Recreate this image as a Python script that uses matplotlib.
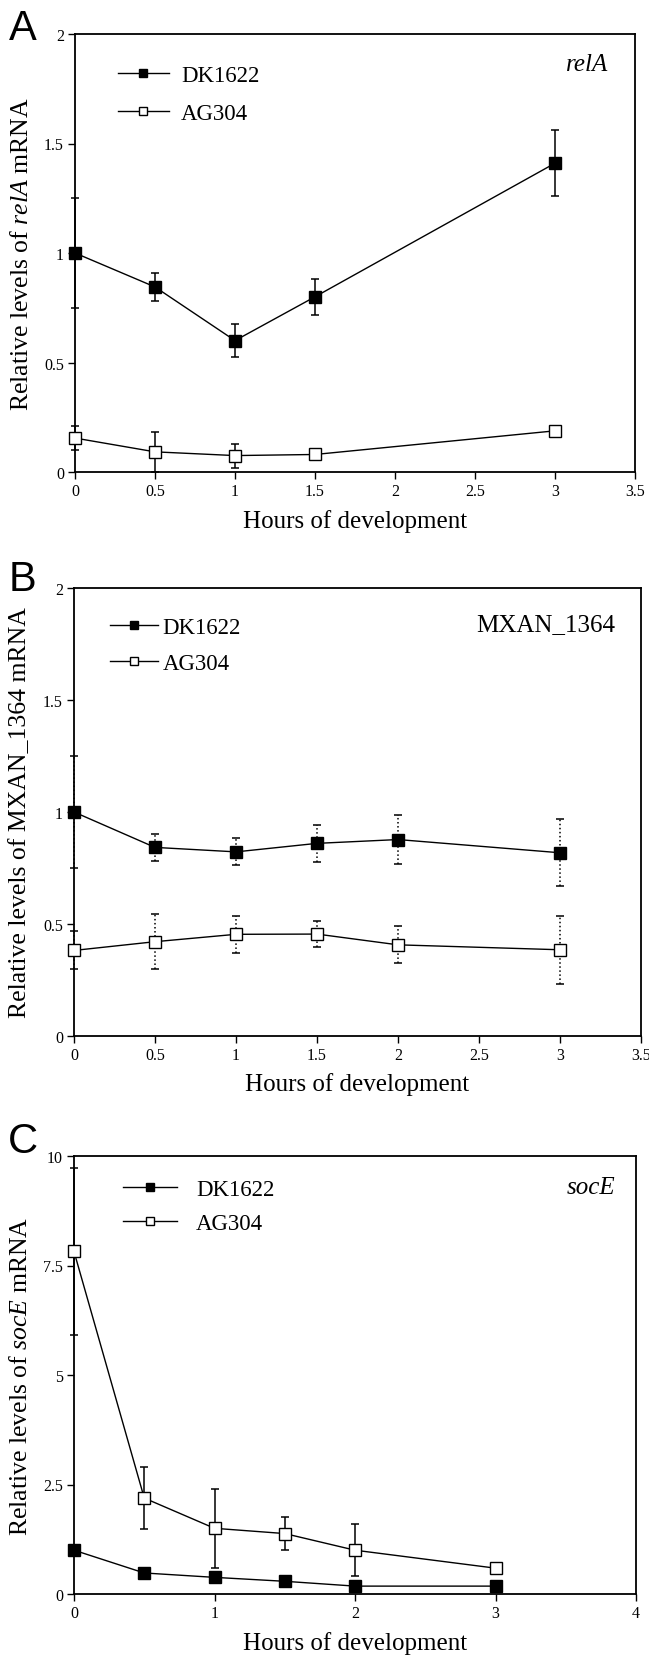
import matplotlib
matplotlib.use("Agg")
import matplotlib.pyplot as plt
from matplotlib.ticker import FuncFormatter

plt.rcParams['font.family'] = ['Liberation Serif', 'DejaVu Serif']
plt.rcParams['mathtext.fontset'] = 'custom'
plt.rcParams['mathtext.rm'] = 'Liberation Serif'
plt.rcParams['mathtext.it'] = 'Liberation Serif:italic'

# ---------------- data ----------------
series_names = ["DK1622", "AG304"]

# Panel A: relA
hours_A = [0, 0.5, 1, 1.5, 3]
relA_DK = [1.00, 0.845, 0.60, 0.80, 1.41]
relA_DK_err = [0.25, 0.062, 0.075, 0.082, 0.152]
relA_AG = [0.155, 0.092, 0.075, 0.080, 0.188]
relA_AG_err = [0.055, 0.090, 0.055, 0.0, 0.0]

# Panel B: MXAN_1364
hours_B = [0, 0.5, 1, 1.5, 2, 3]
mxan_DK = [1.00, 0.842, 0.822, 0.860, 0.877, 0.818]
mxan_DK_err = [0.25, 0.062, 0.060, 0.083, 0.110, 0.150]
mxan_AG = [0.382, 0.421, 0.454, 0.455, 0.407, 0.385]
mxan_AG_err = [0.085, 0.123, 0.082, 0.058, 0.082, 0.151]

# Panel C: socE
hours_C = [0, 0.5, 1, 1.5, 2, 3]
socE_DK = [1.00, 0.48, 0.38, 0.29, 0.18, 0.18]
socE_DK_err = [0, 0, 0, 0, 0, 0]
socE_AG = [7.82, 2.19, 1.50, 1.38, 1.00, 0.59]
socE_AG_err = [1.90, 0.70, 0.90, 0.37, 0.60, 0.0]

xticks_AB = [0, 0.5, 1, 1.5, 2, 2.5, 3, 3.5]
yticks_AB = [0, 0.5, 1, 1.5, 2]
xticks_C = [0, 1, 2, 3, 4]
yticks_C = [0, 2.5, 5, 7.5, 10]

W, H = 649, 1656
fig = plt.figure(figsize=(W / 100, H / 100), dpi=100)


def axes_px(left, right, top, bottom):
    return fig.add_axes([left / W, 1 - bottom / H, (right - left) / W, (bottom - top) / H])


fmt = FuncFormatter(lambda v, p: "%g" % v)


def panel(ax, x, dk, dk_err, ag, ag_err, xlim, ylim, xticks, yticks, ylabel, gene,
          gene_italic, leg_anchor, leg_hl, leg_pad, leg_space, xlab_y, err_style='-'):
    e1 = ax.errorbar(x, dk, yerr=dk_err, fmt='none', ecolor='black', elinewidth=1.1,
                     capsize=3, capthick=1.1, zorder=2)
    e2 = ax.errorbar(x, ag, yerr=ag_err, fmt='none', ecolor='black', elinewidth=1.1,
                     capsize=3, capthick=1.1, zorder=2)
    for e in (e1, e2):
        for c in e[2]:
            c.set_linestyle(err_style)
            c.set_clip_on(False)
        for c in e[1]:
            c.set_clip_on(False)
    l1, = ax.plot(x, dk, '-', color='black', lw=1.0, marker='s', ms=9,
                  mfc='black', mec='black', mew=1, label=series_names[0], zorder=3,
                  clip_on=False)
    l2, = ax.plot(x, ag, '-', color='black', lw=1.0, marker='s', ms=9,
                  mfc='white', mec='black', mew=1, label=series_names[1], zorder=3,
                  clip_on=False)
    ax.set_xlim(*xlim)
    ax.set_ylim(*ylim)
    ax.set_xticks(xticks)
    ax.set_yticks(yticks)
    ax.xaxis.set_major_formatter(fmt)
    ax.yaxis.set_major_formatter(fmt)
    ax.tick_params(direction='out', length=5, width=1, labelsize=11.5, pad=3,
                   top=False, right=False)
    for s in ax.spines.values():
        s.set_linewidth(1.3)
    ax.set_xlabel("Hours of development", fontsize=18)
    ax.xaxis.label.set_verticalalignment('center')
    ax.xaxis.set_label_coords(0.5, xlab_y)
    ax.set_ylabel(ylabel, fontsize=18.5)
    ax.yaxis.label.set_verticalalignment('center')
    ax.yaxis.set_label_coords(-0.095, 0.5)
    ax.text(gene[1], gene[2], gene[0], transform=ax.transAxes, ha='right', va='center',
            fontsize=18, style='italic' if gene_italic else 'normal')
    ax.legend(handles=[l1, l2], loc='upper left', bbox_to_anchor=leg_anchor,
              frameon=False, fontsize=16.5, handlelength=leg_hl, handletextpad=leg_pad,
              labelspacing=leg_space, markerscale=0.7, borderpad=0, borderaxespad=0)


axA = axes_px(75, 635, 35, 473)
panel(axA, hours_A, relA_DK, relA_DK_err, relA_AG, relA_AG_err, (0, 3.5), (0, 2),
      xticks_AB, yticks_AB, r"Relative levels of $\it{relA}$ mRNA",
      ("relA", 0.953, 0.932), True, (0.077, 0.929), 2.2, 0.55, 0.72, -0.11)

axB = axes_px(74, 641, 589, 1037)
panel(axB, hours_B, mxan_DK, mxan_DK_err, mxan_AG, mxan_AG_err, (0, 3.5), (0, 2),
      xticks_AB, yticks_AB, "Relative levels of MXAN_1364 mRNA",
      ("MXAN_1364", 0.954, 0.92), False, (0.063, 0.936), 2.1, 0.2, 0.68, -0.107,
      err_style=':')

axC = axes_px(74, 636, 1157, 1595)
panel(axC, hours_C, socE_DK, socE_DK_err, socE_AG, socE_AG_err, (0, 4), (0, 10),
      xticks_C, yticks_C, r"Relative levels of $\it{socE}$ mRNA",
      ("socE", 0.963, 0.929), True, (0.087, 0.948), 2.35, 0.85, 0.58, -0.11)

for letter, yy in (("A", 29), ("B", 580), ("C", 1142)):
    fig.text(23 / W, 1 - yy / H, letter, fontsize=30, family='Liberation Sans',
             ha='center', va='center')

fig.savefig("out.png", dpi=100)
